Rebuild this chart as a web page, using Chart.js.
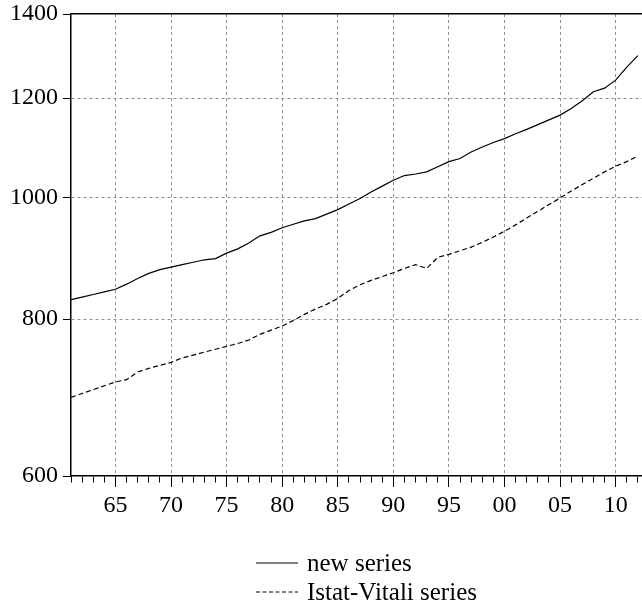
<!DOCTYPE html>
<html><head><meta charset="utf-8">
<script src="https://cdn.jsdelivr.net/npm/chart.js@4.4.1/dist/chart.umd.min.js"></script>
<style>
html,body{margin:0;padding:0;background:#fff;}
#wrap{position:relative;width:642px;height:606px;}
#legend{position:absolute;left:256px;top:548px;font-family:"Liberation Serif",serif;font-size:25px;color:#000;}
.row{display:flex;align-items:center;height:29px;white-space:nowrap;}
.row svg{margin-right:9px;}
</style></head><body>
<div id="wrap"><canvas id="c" width="642" height="606"></canvas><div id="legend"></div></div>
<script>
const years = [1961,1962,1963,1964,1965,1966,1967,1968,1969,1970,1971,1972,1973,1974,1975,1976,1977,1978,1979,1980,
  1981,1982,1983,1984,1985,1986,1987,1988,1989,1990,1991,1992,1993,1994,1995,1996,1997,1998,1999,2000,
  2001,2002,2003,2004,2005,2006,2007,2008,2009,2010,2011,2012];
const newSeries = [829,833,837,841,845,853,862,870,876,880,884,888,892,894,903,910,920,932,938,946,
  952,958,962,970,978,988,998,1010,1021,1032,1041,1044,1048,1058,1068,1074,1087,1097,1106,1114,
  1124,1133,1143,1153,1163,1177,1194,1214,1222,1240,1270,1297];
const istatVitaliSeries = [693,698,703,708,713,716,726,731,735,739,745,749,753,757,761,765,770,778,784,790,
  798,807,815,822,831,843,852,859,865,871,878,884,878,896,901,907,913,921,930,940,
  951,963,975,987,999,1012,1024,1036,1048,1059,1068,1079];
const seriesNames = ['new series','Istat-Vitali series'];
const yTickValues = [600,800,1000,1200,1400];
const xLabelEvery = 5;

const FONT = {family:'"Liberation Serif", serif', size:24};
const GRID = '#8f8f8f';

const toPts = arr => years.map((y,i)=>({x:y,y:arr[i]}));

const chart = new Chart(document.getElementById('c'), {
  type:'line',
  data:{datasets:[
    {label:seriesNames[0], data:toPts(newSeries), borderColor:'#000', borderWidth:1.2, pointRadius:0, fill:false, tension:0},
    {label:seriesNames[1], data:toPts(istatVitaliSeries), borderColor:'#000', borderWidth:1.2, borderDash:[5,3], pointRadius:0, fill:false, tension:0}
  ]},
  options:{
    responsive:false, animation:false, devicePixelRatio:1,
    layout:{padding:{left:10,top:14,right:0,bottom:90}},
    plugins:{legend:{display:false}, tooltip:{enabled:false}},
    scales:{
      x:{type:'linear', position:'bottom', min:1961, max:2012.37,
        afterFit:s=>{s.height=40; s.paddingLeft=0; s.paddingRight=0;},
        ticks:{stepSize:1, includeBounds:false, autoSkip:false, maxRotation:0, minRotation:0, padding:4, color:'#000', font:FONT,
          callback:v=> (v % xLabelEvery === 0) ? String(v).slice(-2) : ''},
        grid:{color:c=> (c.tick && c.tick.value % xLabelEvery === 0) ? GRID : 'rgba(0,0,0,0)',
          lineWidth:1, tickLength:11, tickColor:'#000', tickWidth:1,
          tickBorderDash:c=> (c.tick && c.tick.value % xLabelEvery === 0) ? [] : [6,100]},
        border:{display:true, color:'#000', width:1.5, dash:[3,3]}
      },
      x2:{type:'linear', position:'top', min:1961, max:2012.37,
        afterFit:s=>{s.height=0; s.paddingLeft=0; s.paddingRight=0;},
        ticks:{display:false}, grid:{drawOnChartArea:false, drawTicks:false},
        border:{display:true, color:'#000', width:1.5}
      },
      y:{type:'logarithmic', position:'left', min:600, max:1400,
        afterFit:s=>{s.width=61; s.paddingTop=0; s.paddingBottom=0;},
        afterBuildTicks:s=>{s.ticks = yTickValues.map(v=>({value:v}));},
        ticks:{padding:5, color:'#000', font:FONT, callback:v=>String(v)},
        grid:{color:c=> (c.tick && (c.tick.value===600 || c.tick.value===1400)) ? 'rgba(0,0,0,0)' : GRID,
          lineWidth:1, tickLength:8, tickColor:'#000'},
        border:{display:true, color:'#000', width:1.5, dash:[3,3]}
      }
    }
  }
});

// HTML legend built from the datasets
const lg = document.getElementById('legend');
chart.data.datasets.forEach(ds=>{
  const row = document.createElement('div'); row.className='row';
  const dash = ds.borderDash ? 'stroke-dasharray="4,2.5"' : '';
  row.innerHTML = '<svg width="42" height="4"><line x1="0" y1="2" x2="42" y2="2" stroke="#000" stroke-width="1" '+dash+'/></svg><span>'+ds.label+'</span>';
  lg.appendChild(row);
});
</script>
</body></html>
